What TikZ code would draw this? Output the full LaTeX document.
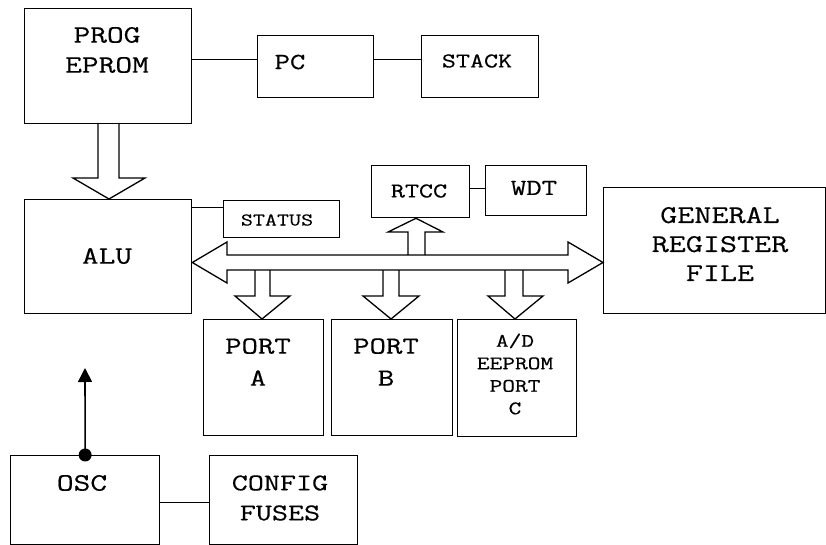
\documentclass[tikz,border=0pt]{standalone}
\usepackage{fontspec}
\setmainfont{Latin Modern Mono}[FakeStretch=1.3,FakeBold=0.5]
\usetikzlibrary{arrows.meta,calc}
\tikzset{
  box/.style={draw, line width=1.3pt, inner sep=0pt, anchor=north west},
  lbl/.style={inner sep=0pt, align=center, font=\fontsize{25}{30}\selectfont},
  lblm/.style={inner sep=0pt, align=center, font=\fontsize{21}{26}\selectfont},
  lbls/.style={inner sep=0pt, align=center, font=\fontsize{18}{22}\selectfont},
  lblc/.style={inner sep=0pt, align=center, font=\fontsize{19}{22.5}\selectfont},
  conn/.style={line width=1.3pt},
  hollow/.style={line width=1.3pt, line join=miter},
}
\begin{document}
\begin{tikzpicture}[x=1pt,y=-1pt]
\useasboundingbox (0,0) rectangle (826,545);
% boxes
\node[box, minimum width=167pt, minimum height=115pt] (eprom) at (24,8) {};
\node[box, minimum width=116pt, minimum height=62pt] (pc) at (257,35) {};
\node[box, minimum width=117pt, minimum height=62pt] (stack) at (421,35) {};
\node[box, minimum width=167pt, minimum height=114pt] (alu) at (24,199) {};
\node[box, minimum width=116pt, minimum height=37pt] (status) at (223,200) {};
\node[box, minimum width=98pt, minimum height=52pt] (rtcc) at (371,165) {};
\node[box, minimum width=101pt, minimum height=50pt] (wdt) at (485,165) {};
\node[box, minimum width=222pt, minimum height=126pt] (grf) at (603,187) {};
\node[box, minimum width=120pt, minimum height=116pt] (porta) at (203,319) {};
\node[box, minimum width=121pt, minimum height=116pt] (portb) at (331,319) {};
\node[box, minimum width=119pt, minimum height=117pt] (portc) at (457,319) {};
\node[box, minimum width=149pt, minimum height=89pt] (osc) at (10,455) {};
\node[box, minimum width=148pt, minimum height=89pt] (cfg) at (209,455) {};
% labels
\node[lbl] (teprom) at (107,50) {PROG\\EPROM};
\node[lbl, font=\fontsize{23}{28}\selectfont] (tpc) at (290,62) {PC};
\node[lblm] (tstack) at (477,61) {STACK};
\node[lbl] (talu) at (107,256) {ALU};
\node[lbls] (tstatus) at (277,220) {STATUS};
\node[lblm] (trtcc) at (419,191) {RTCC};
\node[lbl, font=\fontsize{23}{28}\selectfont] (twdt) at (534,188) {WDT};
\node[lbl, font=\fontsize{25.5}{29}\selectfont] (tgrf) at (720,244) {GENERAL\\REGISTER\\FILE};
\node[lbl, font=\fontsize{24.5}{32}\selectfont] (tporta) at (258,362) {PORT\\A};
\node[lbl, font=\fontsize{24.5}{32}\selectfont] (tportb) at (386,362) {PORT\\B};
\node[lblc] (tportc) at (515,374) {A/D\\EEPROM\\PORT\\C};
\node[lbl] (tosc) at (82,483) {OSC};
\node[lbl, font=\fontsize{24}{30}\selectfont] (tcfg) at (280,498) {CONFIG\\FUSES};
% plain connectors
\coordinate (e1) at ([yshift=6.5pt]eprom.east);
\draw[conn] (e1) -- (e1 -| pc.west);
\coordinate (p1) at ([yshift=7pt]pc.east);
\draw[conn] (p1) -- (p1 -| stack.west);
\coordinate (s1) at ([yshift=11.5pt]status.west);
\draw[conn] (s1 -| alu.east) -- (s1);
\coordinate (r1) at ([yshift=3pt]rtcc.east);
\draw[conn] (r1) -- (r1 -| wdt.west);
\coordinate (o1) at ([yshift=-2.5pt]osc.east);
\draw[conn] (o1) -- (o1 -| cfg.west);
% oscillator output
\coordinate (oscout) at (85,368);
\draw[line width=1.6pt, -{Triangle[width=14pt,length=14pt]}] (osc.north) -- (oscout);
\fill (osc.north) circle (6.5pt);
% hollow arrow PROG EPROM -> ALU
\draw[hollow] (98,123) -- (98,178) -- (73,178) -- (109,199) -- (145,178) -- (119,178) -- (119,123);
% bus (double-headed hollow arrow) ALU <-> GENERAL REGISTER FILE
\draw[hollow] (alu.east |- 0,262.5) -- (227,242) -- (227,255) -- (568,255) -- (568,242)
  -- (grf.west |- 0,262.5) -- (568,283) -- (568,270) -- (227,270) -- (227,283) -- cycle;
% hollow arrow bus -> RTCC
\draw[hollow] (408,255) -- (408,232) -- (388,232) -- (rtcc.south -| 416,0) -- (443,232) -- (425,232) -- (425,255);
% hollow arrows bus -> ports
\draw[hollow] (255,270) -- (255,296) -- (235,296) -- (porta.north -| 262,0) -- (290,296) -- (270,296) -- (270,270);
\draw[hollow] (383,270) -- (383,296) -- (363,296) -- (portb.north -| 391,0) -- (419,296) -- (399,296) -- (399,270);
\draw[hollow] (505,270) -- (505,296) -- (488,296) -- (portc.north -| 515,0) -- (543,296) -- (523,296) -- (523,270);
\end{tikzpicture}
\end{document}
